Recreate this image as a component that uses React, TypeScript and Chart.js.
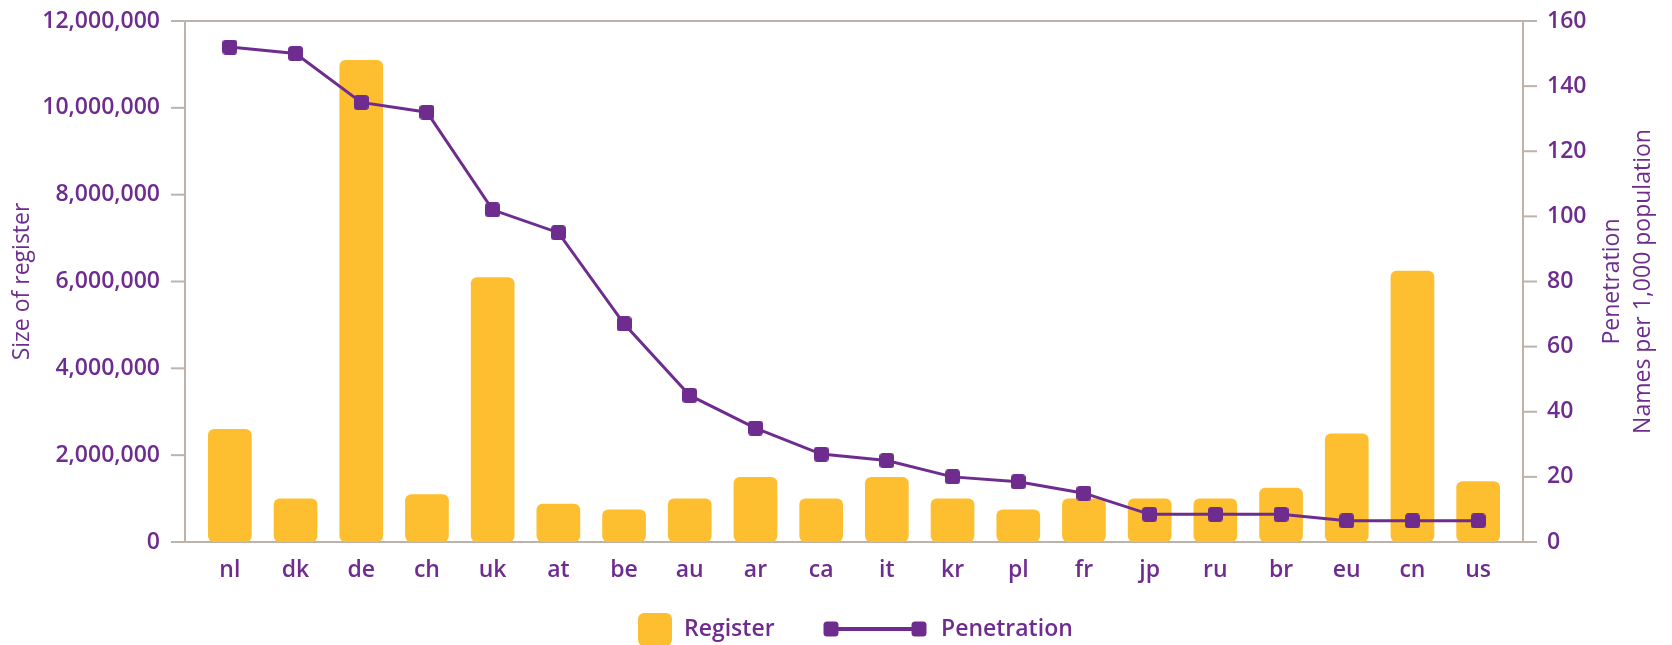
import React, { useEffect, useRef } from 'react';
import { Chart, registerables } from 'chart.js';

Chart.register(...registerables);

const categories = ['nl', 'dk', 'de', 'ch', 'uk', 'at', 'be', 'au', 'ar', 'ca', 'it', 'kr', 'pl', 'fr', 'jp', 'ru', 'br', 'eu', 'cn', 'us'];
const registerValues = [2600000, 1000000, 11100000, 1100000, 6100000, 880000, 750000, 1000000, 1500000, 1000000, 1500000, 1000000, 750000, 1000000, 1000000, 1000000, 1250000, 2500000, 6250000, 1400000];
const penetrationValues = [152, 150, 135, 132, 102, 95, 67, 45, 35, 27, 25, 20, 18.5, 15, 8.5, 8.5, 8.5, 6.5, 6.5, 6.5];
const leftTicks = [0, 2000000, 4000000, 6000000, 8000000, 10000000, 12000000];
const rightTicks = [0, 20, 40, 60, 80, 100, 120, 140, 160];

const leftTitle = 'Size of register';
const rightTitleLines = ['Penetration', 'Names per 1,000 population'];
const legendLabels = ['Register', 'Penetration'];

const PURPLE = '#6e2c8f';
const YELLOW = '#fdbf2f';
const AXIS = '#bdb3ab';
const FONT = '"Open Sans", "DejaVu Sans", sans-serif';

function makeMarker(size: number, color: string, r: number) {
  const c = document.createElement('canvas');
  c.width = size;
  c.height = size;
  const ctx = c.getContext('2d')!;
  ctx.fillStyle = color;
  ctx.beginPath();
  (ctx as any).roundRect(0, 0, size, size, r);
  ctx.fill();
  return c;
}

function roundRectPath(ctx: CanvasRenderingContext2D, x: number, y: number, w: number, h: number, r: number) {
  ctx.beginPath();
  (ctx as any).roundRect(x, y, w, h, r);
}

const framePlugin = {
  id: 'frame',
  beforeDatasetsDraw(chart: any) {
    const { ctx, chartArea, scales } = chart;
    const { left, right, top, bottom } = chartArea;
    const off = 12;
    const tl = 14;
    const xl = left - off;
    const xr = right + off;
    ctx.save();
    ctx.strokeStyle = AXIS;
    ctx.lineWidth = 2;
    const line = (x1: number, y1: number, x2: number, y2: number) => {
      ctx.beginPath();
      ctx.moveTo(x1, y1);
      ctx.lineTo(x2, y2);
      ctx.stroke();
    };
    line(xl, top, xl, bottom);
    line(xr, top, xr, bottom);
    line(xl, top, xr, top);
    line(xl, bottom, xr, bottom);
    scales.y.ticks.forEach((t: any) => {
      const y = scales.y.getPixelForValue(t.value);
      line(xl - tl, y, xl, y);
    });
    scales.y1.ticks.forEach((t: any) => {
      const y = scales.y1.getPixelForValue(t.value);
      line(xr, y, xr + tl, y);
    });
    ctx.restore();
  },
  afterDraw(chart: any) {
    const { ctx, chartArea, width } = chart;
    const { right, top, bottom } = chartArea;
    const midY = (top + bottom) / 2;
    ctx.save();
    ctx.fillStyle = PURPLE;
    ctx.font = `500 23px ${FONT}`;
    ctx.textAlign = 'center';
    ctx.textBaseline = 'middle';
    // left title
    ctx.save();
    ctx.translate(22, midY);
    ctx.rotate(-Math.PI / 2);
    ctx.fillText(leftTitle, 0, 0);
    ctx.restore();
    // right title
    rightTitleLines.forEach((txt, i) => {
      ctx.save();
      ctx.translate(right + 101 + i * 31.5, midY);
      ctx.rotate(-Math.PI / 2);
      ctx.fillText(txt, 0, 0);
      ctx.restore();
    });
    // legend
    const ly = 629;
    const start = width / 2 - 198;
    ctx.fillStyle = YELLOW;
    roundRectPath(ctx, start, ly - 16, 34, 33, 6);
    ctx.fill();
    ctx.fillStyle = PURPLE;
    ctx.font = `600 23px ${FONT}`;
    ctx.textAlign = 'left';
    ctx.fillText(legendLabels[0], start + 46, ly);
    const lx1 = start + 193;
    const lx2 = start + 281;
    ctx.strokeStyle = PURPLE;
    ctx.lineWidth = 4;
    ctx.beginPath();
    ctx.moveTo(lx1, ly);
    ctx.lineTo(lx2, ly);
    ctx.stroke();
    roundRectPath(ctx, lx1 - 7.5, ly - 7.5, 15, 15, 3.5);
    ctx.fill();
    roundRectPath(ctx, lx2 - 7.5, ly - 7.5, 15, 15, 3.5);
    ctx.fill();
    ctx.fillText(legendLabels[1], start + 303, ly);
    ctx.restore();
  },
};

export default function App() {
  const ref = useRef<HTMLCanvasElement | null>(null);

  useEffect(() => {
    if (!ref.current) return;
    const marker = makeMarker(15, PURPLE, 3.5);
    const tickFont = { family: FONT, size: 23, weight: 600 as any };
    const chart = new Chart(ref.current, {
      type: 'bar',
      data: {
        labels: categories,
        datasets: [
          {
            type: 'line' as any,
            label: 'Penetration',
            data: penetrationValues,
            yAxisID: 'y1',
            borderColor: PURPLE,
            backgroundColor: PURPLE,
            borderWidth: 3,
            pointStyle: marker as any,
            pointRadius: 8,
            pointHoverRadius: 8,
            tension: 0,
            order: 0,
          } as any,
          {
            type: 'bar' as any,
            label: 'Register',
            data: registerValues,
            yAxisID: 'y',
            backgroundColor: YELLOW,
            borderWidth: 0,
            borderRadius: 6,
            borderSkipped: false,
            barPercentage: 0.665,
            categoryPercentage: 1,
            order: 1,
          } as any,
        ],
      },
      options: {
        animation: false,
        responsive: true,
        maintainAspectRatio: false,
        devicePixelRatio: 1,
        layout: { padding: { top: 21, bottom: 53, left: 0, right: 0 } },
        plugins: {
          legend: { display: false },
          tooltip: { enabled: false },
        },
        scales: {
          x: {
            offset: true,
            grid: { display: false, drawTicks: false },
            border: { display: false },
            ticks: { color: PURPLE, font: tickFont, padding: 15, maxRotation: 0, autoSkip: false },
            afterFit: (s: any) => { s.height = 50; s.paddingLeft = 0; s.paddingRight = 0; },
          },
          y: {
            position: 'left',
            min: leftTicks[0],
            max: leftTicks[leftTicks.length - 1],
            grid: { display: false, drawTicks: false },
            border: { display: false },
            afterBuildTicks: (s: any) => { s.ticks = leftTicks.map((v) => ({ value: v })); },
            ticks: {
              color: PURPLE,
              font: tickFont,
              padding: 37,
              callback: (v: any) => Number(v).toLocaleString('en-US'),
            },
            afterFit: (s: any) => { s.width = 197; s.paddingTop = 0; s.paddingBottom = 0; },
          },
          y1: {
            position: 'right',
            min: rightTicks[0],
            max: rightTicks[rightTicks.length - 1],
            grid: { display: false, drawTicks: false },
            border: { display: false },
            afterBuildTicks: (s: any) => { s.ticks = rightTicks.map((v) => ({ value: v })); },
            ticks: { color: PURPLE, font: tickFont, padding: 36 },
            afterFit: (s: any) => { s.width = 161; s.paddingTop = 0; s.paddingBottom = 0; },
          },
        },
      } as any,
      plugins: [framePlugin],
    });
    return () => chart.destroy();
  }, []);

  return (
    <div style={{ position: 'fixed', left: 0, top: 0, width: 1672, height: 645, background: '#fff' }}>
      <canvas ref={ref} />
    </div>
  );
}
